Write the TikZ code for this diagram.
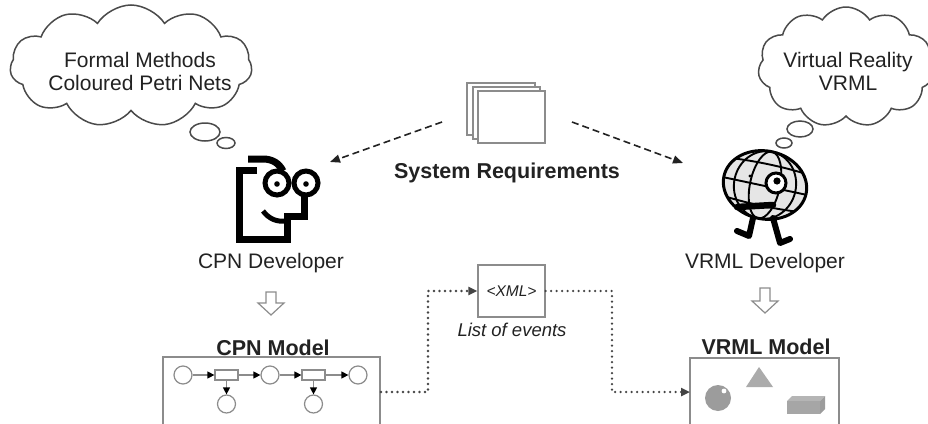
\documentclass[tikz,border=0pt]{standalone}
\usepackage{fontspec}
\setmainfont{Liberation Sans}
\usetikzlibrary{arrows.meta,shapes.symbols}
\definecolor{ink}{HTML}{222222}
\definecolor{cloudline}{HTML}{4A4A4A}
\definecolor{frame}{HTML}{8C8C8C}
\definecolor{flow}{HTML}{444444}
\definecolor{shapegray}{HTML}{9C9C9C}
\definecolor{globefill}{HTML}{E6E6E6}
\begin{document}
\begin{tikzpicture}[x=1pt,y=-1pt,
  lbl/.style={text=ink,font=\fontsize{21}{23}\selectfont,align=center,inner sep=0pt},
  blbl/.style={text=ink,font=\fontsize{21.5}{23}\selectfont\bfseries,inner sep=0pt},
  thought/.style={cloud,draw=cloudline,line width=1.5pt,cloud puffs=11,cloud puff arc=115,
    cloud ignores aspect,inner sep=0pt},
  bubble/.style={draw=cloudline,line width=1.5pt,fill=white},
  page/.style={draw=frame,line width=1.3pt,fill=white},
  reqarrow/.style={draw=ink,line width=1.6pt,dash pattern=on 7pt off 4pt,
    -{Triangle[length=10pt,width=8pt]}},
  evflow/.style={draw=flow,line width=2.6pt,dash pattern=on 0pt off 5.5pt,line cap=round,
    -{Triangle[length=9pt,width=8pt,line cap=butt]}},
  hollow/.style={draw=frame,line width=1.2pt,fill=white,line join=miter},
  modelbox/.style={draw=frame,line width=1.4pt},
  place/.style={circle,draw=frame,fill=white,line width=1.2pt,minimum size=18pt,inner sep=0pt},
  trans/.style={rectangle,draw=frame,fill=white,line width=1.2pt,minimum width=23pt,
    minimum height=10pt,inner sep=0pt},
  pnarc/.style={draw=frame,line width=1.2pt,-{Triangle[length=7pt,width=7pt,color=black]}},
  iconline/.style={line width=7pt,line join=miter},
  grid/.style={line width=1.9pt},
]
\useasboundingbox (0,0) rectangle (928,423);
\fill[white] (0,0) rectangle (928,423);
\clip (0,0) rectangle (928,423);

% ---- thought clouds
\node[thought,minimum width=242pt,minimum height=122pt] (cloudL) at (131,66) {};
\draw[bubble] (205,132) ellipse [x radius=15, y radius=9];
\draw[bubble] (226,143) ellipse [x radius=9, y radius=5.5];
\node[lbl] (cloudLtext) at (140,71) {Formal Methods\\Coloured Petri Nets};

\node[thought,minimum width=176pt,minimum height=120pt] (cloudR) at (846,67) {};
\draw[bubble] (800,129) ellipse [x radius=13, y radius=8];
\draw[bubble] (784,143) ellipse [x radius=8, y radius=5];
\node[lbl] (cloudRtext) at (848,71) {Virtual Reality\\VRML};

% ---- requirement documents
\draw[page] (467,83) rectangle (535,135);
\draw[page] (473,87) rectangle (540,139);
\node[page,minimum width=67pt,minimum height=52pt,inner sep=0pt] (req) at (511.5,117) {};
\node[blbl] (reqtext) at (507,173) {System Requirements};

\coordinate (reqL) at (442,122);
\coordinate (reqR) at (572,122);
\coordinate (cpnIcon) at (330,162);
\coordinate (vrmlIcon) at (683,163);
\draw[reqarrow] (reqL) -- (cpnIcon);
\draw[reqarrow] (reqR) -- (vrmlIcon);

% ---- CPN developer (face icon)
\draw[iconline] (257,170) -- (239,170) -- (239,239) -- (287,239) -- (287,216) -- (304,216) -- (304,196);
\draw[line width=7pt] (248,159) -- (263,159) .. controls (272,159) and (279,163) .. (283,171);
\draw[line width=5pt,fill=white] (277,183) circle (12);
\draw[line width=5pt,fill=white] (306,183) circle (12);
\fill (277,184) circle (2.8);
\fill (306,184) circle (2.8);
\draw[line width=5pt] (263,211) .. controls (269,219) and (277,222) .. (285,221);
\node[lbl] (cpndev) at (271,263) {CPN Developer};

% ---- VRML developer (walking globe)
\begin{scope}[rotate around={-12:(765,185)}]
  \fill[globefill] (765,185) ellipse [x radius=42, y radius=34];
  \begin{scope}
    \clip (765,185) ellipse [x radius=42, y radius=34];
    \draw[grid] (765,185) ellipse [x radius=15, y radius=34];
    \draw[grid] (765,185) ellipse [x radius=31, y radius=34];
    \draw[grid] (715,167) .. controls (745,163) and (785,163) .. (815,167);
    \draw[grid] (715,186) -- (815,186);
    \draw[grid] (715,203) .. controls (745,207) and (785,207) .. (815,203);
  \end{scope}
  \draw[line width=3pt] (765,185) ellipse [x radius=42, y radius=34];
\end{scope}
\draw[line width=3pt,fill=white] (776,183) circle (10);
\fill (777,181) circle (3.6);
\fill (750,176) circle (1.6);
\draw[line width=6.5pt,line cap=round] (737,207) -- (773,205);
\draw[line width=6pt,line join=round,line cap=round] (753,218) -- (749,236) -- (737,231);
\draw[line width=6pt,line join=round,line cap=round] (773,218) -- (780,243) -- (790,239);
\node[lbl] (vrmldev) at (765,263) {VRML Developer};

% ---- hollow arrows down
\draw[hollow] (266,292) -- (276,292) -- (276,303) -- (284,303) -- (271,315) -- (258,303) -- (266,303) -- cycle;
\draw[hollow] (760,288) -- (770,288) -- (770,301) -- (778,301) -- (765,313) -- (752,301) -- (760,301) -- cycle;

% ---- CPN model
\node[blbl] (cpnmodel) at (273,348) {CPN Model};
\draw[modelbox] (163,430) -- (163,357) -- (380,357) -- (380,430);
\node[place] (p1) at (183,375) {};
\node[trans] (t1) at (226.5,375) {};
\node[place] (p2) at (270,375) {};
\node[trans] (t2) at (313.5,375) {};
\node[place] (p3) at (358,375) {};
\node[place] (p4) at (226.5,404) {};
\node[place] (p5) at (313.5,404) {};
\draw[pnarc] (p1) -- (t1);
\draw[pnarc] (t1) -- (p2);
\draw[pnarc] (p2) -- (t2);
\draw[pnarc] (t2) -- (p3);
\draw[pnarc] (t1) -- (p4);
\draw[pnarc] (t2) -- (p5);

% ---- VRML model
\node[blbl] (vrmlmodel) at (766,347) {VRML Model};
\draw[modelbox] (690,430) -- (690,358) -- (839,358) -- (839,430);
\fill[shapegray] (718,398) circle (13);
\fill[white] (724,391) circle (2.4);
\fill[shapegray!85] (759,367) -- (773,387) -- (746,387) -- cycle;
\fill[shapegray!75] (787,401) -- (792,396) -- (825,396) -- (820,401) -- cycle;
\fill[shapegray] (820,401) -- (825,396) -- (825,409) -- (820,414) -- cycle;
\fill[shapegray!90] (787,401) rectangle (820,414);

% ---- event list exchange
\node[draw=frame,line width=1.3pt,minimum width=67pt,minimum height=52pt,inner sep=0pt,
  text=ink,font=\fontsize{15.5}{17}\selectfont\itshape] (xml) at (511.5,291) {<XML>};
\node[text=ink,font=\fontsize{18.5}{20}\selectfont\itshape,inner sep=0pt] (events) at (512,330) {List of events};
\coordinate (cpnR) at (381,392);
\coordinate (vrmlL) at (690,392);
\draw[evflow] (cpnR) -- (428,392) |- (xml.west);
\draw[evflow] (xml.east) -- (612,291) |- (vrmlL);
\end{tikzpicture}
\end{document}
